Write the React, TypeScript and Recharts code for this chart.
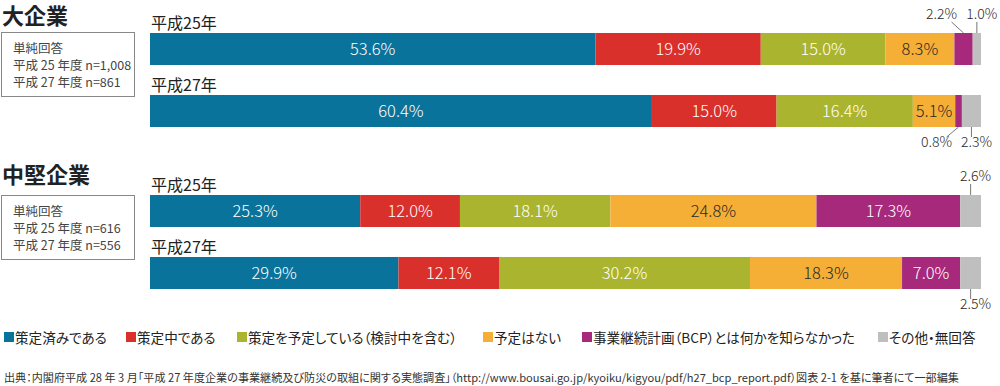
import React from 'react';
import { BarChart, Bar, XAxis, YAxis, LabelList } from 'recharts';

const years = ['平成25年', '平成27年'];
const seriesNames = [
  '策定済みである',
  '策定中である',
  '策定を予定している（検討中を含む）',
  '予定はない',
  '事業継続計画（BCP）とは何かを知らなかった',
  'その他・無回答',
];
const colors = ['#0a739b', '#d9302c', '#abb42f', '#f5af36', '#a6297b', '#bfbfbf'];

// 大企業
const largeDone = [53.6, 60.4];
const largeInProgress = [19.9, 15.0];
const largePlanned = [15.0, 16.4];
const largeNoPlan = [8.3, 5.1];
const largeUnaware = [2.2, 0.8];
const largeOther = [1.0, 2.3];

// 中堅企業
const midDone = [25.3, 29.9];
const midInProgress = [12.0, 12.1];
const midPlanned = [18.1, 30.2];
const midNoPlan = [24.8, 18.3];
const midUnaware = [17.3, 7.0];
const midOther = [2.6, 2.5];

const largeN = ['n=1,008', 'n=861'];
const midN = ['n=616', 'n=556'];

const keys = ['s0', 's1', 's2', 's3', 's4', 's5'];
const font = "'Noto Sans CJK JP', 'Noto Sans', sans-serif";

function buildRows(series: number[][]) {
  return years.map((year, i) => {
    const row: any = { year };
    series.forEach((s, k) => {
      row[keys[k]] = s[i];
    });
    return row;
  });
}

const largeRows = buildRows([largeDone, largeInProgress, largePlanned, largeNoPlan, largeUnaware, largeOther]);
const midRows = buildRows([midDone, midInProgress, midPlanned, midNoPlan, midUnaware, midOther]);

function makeLabel(k: number) {
  return (props: any) => {
    const x = Number(props.x);
    const y = Number(props.y);
    const w = Number(props.width);
    const h = Number(props.height);
    const v = Number(props.value);
    const idx = props.index;
    const cx = x + w / 2;
    const txt = `${v.toFixed(1)}%`;
    if (v >= 4) {
      return (
        <text x={cx} y={y + h / 2 + 6} textAnchor="middle" fontSize={16.5} fontWeight={300} fill={k === 3 ? '#2a2a2a' : '#fff'} fontFamily={font}>
          {txt}
        </text>
      );
    }
    const up = idx === 0;
    const shift = k === 4 ? -22 : 5;
    const lx = cx + shift;
    const edge = up ? y : y + h;
    const ty = up ? edge - 14 : edge + 20;
    const lineEnd = up ? edge - 11 : edge + 10;
    const lineX = k === 4 ? lx + 10 : cx;
    return (
      <g>
        <line x1={cx} y1={edge} x2={lineX} y2={lineEnd} stroke="#555" strokeWidth={0.8} />
        <text x={lx} y={ty} textAnchor="middle" fontSize={14} fontWeight={300} fill="#2a2a2a" fontFamily={font}>
          {txt}
        </text>
      </g>
    );
  };
}

const yearLabel = (props: any) => (
  <text x={Number(props.x) + 1} y={Number(props.y) - 4} fontSize={16} fill="#222" fontFamily={font}>
    {props.value}
  </text>
);

function Group({ data, top, mt, mb }: { data: any[]; top: number; mt: number; mb: number }) {
  return (
    <div style={{ position: 'absolute', left: 0, top }}>
      <BarChart width={1000} height={160} data={data} layout="vertical" margin={{ top: mt, bottom: mb, left: 150, right: 19 }}>
        <XAxis type="number" domain={[0, 100]} allowDataOverflow hide />
        <YAxis type="category" dataKey="year" hide />
        {keys.map((key, k) => (
          <Bar key={key} dataKey={key} stackId="a" fill={colors[k]} barSize={32} isAnimationActive={false}>
            <LabelList dataKey={key} content={makeLabel(k)} />
            {k === 0 ? <LabelList dataKey="year" content={yearLabel} /> : null}
          </Bar>
        ))}
      </BarChart>
    </div>
  );
}

function InfoBox({ top, n }: { top: number; n: string[] }) {
  return (
    <div
      style={{
        position: 'absolute',
        left: 1,
        top,
        width: 134,
        height: 65,
        border: '1px solid #888',
        fontSize: 12.5,
        lineHeight: '17px',
        color: '#444',
        padding: '6px 0 0 11px',
        boxSizing: 'border-box',
        whiteSpace: 'nowrap',
      }}
    >
      <div>単純回答</div>
      <div>平成 25 年度 {n[0]}</div>
      <div>平成 27 年度 {n[1]}</div>
    </div>
  );
}

const legendLeft = [4, 126, 237, 483, 582, 878];

export default function App() {
  return (
    <div style={{ position: 'absolute', left: 0, top: 0, width: 1000, height: 386, background: '#fff', fontFamily: font, color: '#222' }}>
      <div style={{ position: 'absolute', left: 2, top: -1, fontSize: 22, fontWeight: 700, lineHeight: '30px' }}>大企業</div>
      <div style={{ position: 'absolute', left: 2, top: 158, fontSize: 22, fontWeight: 700, lineHeight: '30px' }}>中堅企業</div>
      <InfoBox top={32} n={largeN} />
      <InfoBox top={195} n={midN} />
      <Group data={largeRows} top={0} mt={18} mb={18} />
      <Group data={midRows} top={160} mt={20} mb={16} />
      {seriesNames.map((name, k) => (
        <div
          key={name}
          style={{
            position: 'absolute',
            left: legendLeft[k],
            top: 327,
            fontSize: 13.6,
            lineHeight: '20px',
            whiteSpace: 'nowrap',
            display: 'flex',
            alignItems: 'center',
            fontFeatureSettings: '"palt"',
          }}
        >
          <span style={{ display: 'inline-block', width: 10, height: 10, background: colors[k], marginRight: 1 }} />
          {name}
        </div>
      ))}
      <div
        style={{
          position: 'absolute',
          left: 4,
          top: 369,
          fontSize: 11.1,
          lineHeight: '16px',
          whiteSpace: 'nowrap',
          color: '#333',
          fontFeatureSettings: '"palt"',
        }}
      >
        出典：内閣府平成 28 年 3 月「平成 27 年度企業の事業継続及び防災の取組に関する実態調査」（http://www.bousai.go.jp/kyoiku/kigyou/pdf/h27_bcp_report.pdf）図表 2-1 を基に筆者にて一部編集
      </div>
    </div>
  );
}
